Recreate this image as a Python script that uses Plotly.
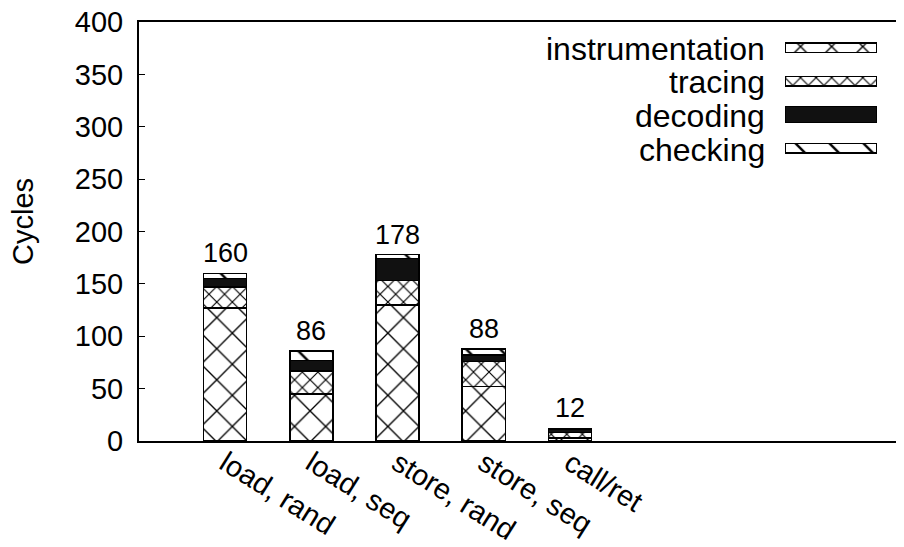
import plotly.graph_objects as go

categories = ["load, rand", "load, seq", "store, rand", "store, seq", "call/ret"]
instrumentation = [127, 45, 130, 52, 3]
tracing = [20, 22, 23, 24, 5]
decoding = [8, 10, 21, 6, 3]
checking = [5, 9, 4, 6, 1]
series_names = ["instrumentation", "tracing", "decoding", "checking"]
y_ticks = [0, 50, 100, 150, 200, 250, 300, 350, 400]

FONT = "Liberation Sans, Arial, Helvetica, sans-serif"
series = [instrumentation, tracing, decoding, checking]
patterns = [
    dict(shape="x", size=22, solidity=0.12, fgcolor="black", bgcolor="white", fillmode="replace"),
    dict(shape="x", size=11, solidity=0.2, fgcolor="black", bgcolor="white", fillmode="replace"),
    None,
    dict(shape="\\", size=24, solidity=0.1, fgcolor="black", bgcolor="white", fillmode="replace"),
]
colors = ["white", "white", "#111111", "white"]

fig = go.Figure()
for name, vals, pat, col in zip(series_names, series, patterns, colors):
    marker = dict(color=col, line=dict(color="black", width=1.5))
    if pat is not None:
        marker["pattern"] = pat
    fig.add_trace(go.Bar(x=categories, y=vals, name=name, width=0.5, marker=marker,
                         showlegend=False))

totals = [sum(v) for v in zip(*series)]
for c, t in zip(categories, totals):
    fig.add_annotation(x=c, y=t, text=str(t), showarrow=False, yanchor="bottom",
                       yshift=3, font=dict(family=FONT, size=27, color="black"))

# legend key samples drawn on an overlay axis
key_widths = [0.28, 0.28, 0.48, 0.28]
for name, pat, col, w in zip(series_names, patterns, colors, key_widths):
    marker = dict(color=col, line=dict(color="black", width=1.2))
    if pat is not None:
        marker["pattern"] = pat
    fig.add_trace(go.Bar(y=[name], x=[1], orientation="h", width=w, marker=marker,
                         xaxis="x2", yaxis="y2", showlegend=False, hoverinfo="skip"))

# page body has an 8px margin; layout values are in figure coordinates
OFF = 8
W, H = 904, 547
L, R, T = 139 - OFF, 0, 22 - OFF
B = H - (441 - OFF)
pw, ph = W - L - R, H - T - B
def px_x(p):
    return (p - OFF - L) / pw
def px_y(p):
    return (H - B - (p - OFF)) / ph

row_centers = [49, 82.5, 116, 149.5]
for name, yc in zip(series_names, row_centers):
    fig.add_annotation(x=px_x(767), y=px_y(yc), xref="paper", yref="paper", text=name,
                       showarrow=False, xanchor="right", yanchor="middle",
                       font=dict(family=FONT, size=32, color="black"))

fig.add_annotation(x=px_x(23), y=px_y(222), xref="paper", yref="paper", text="Cycles",
                   showarrow=False, textangle=-90, xanchor="center", yanchor="middle",
                   font=dict(family=FONT, size=29, color="black"))

fig.update_layout(
    width=W, height=H,
    margin=dict(l=L, r=R, t=T, b=B, pad=0, autoexpand=False),
    plot_bgcolor="white", paper_bgcolor="white",
    barmode="stack", showlegend=False,
    font=dict(family=FONT, size=29, color="black"),
    xaxis=dict(range=[-1, 7.97], showline=True, linecolor="black", linewidth=2, mirror=True,
               ticks="", showgrid=False, zeroline=False, tickangle=32, automargin=False,
               ticklabeloverflow="allow", ticklabelstandoff=-8,
               tickfont=dict(family=FONT, size=29)),
    yaxis=dict(range=[0, 400], tickvals=y_ticks, showline=True, linecolor="black", linewidth=2,
               ticks="inside", ticklen=6, tickcolor="black", tickwidth=1, showgrid=False,
               zeroline=False, ticklabelstandoff=8, automargin=False,
               ticklabeloverflow="allow",
               tickfont=dict(family=FONT, size=29)),
    xaxis2=dict(domain=[px_x(785), px_x(877)], range=[0, 1], visible=False, anchor="y2"),
    yaxis2=dict(domain=[px_y(165), px_y(31)], categoryorder="array",
                categoryarray=series_names[::-1], visible=False, anchor="x2"),
)

fig.write_html("out.html")
